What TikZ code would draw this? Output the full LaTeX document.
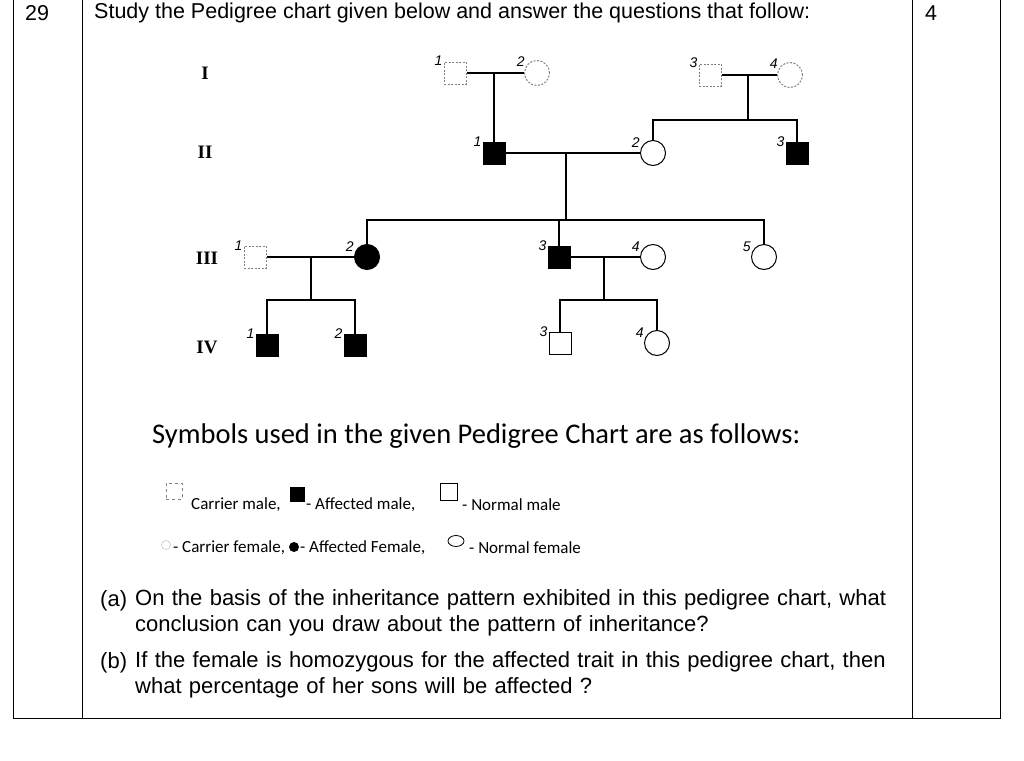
\documentclass[tikz,border=0pt]{standalone}
\usepackage{fontspec}
\usetikzlibrary{shapes.geometric}
\setmainfont{Liberation Sans}
\newfontfamily\calfont{Carlito}
\newfontfamily\serifn{Liberation Serif}
\begin{document}
\begin{tikzpicture}[x=1pt,y=-1pt,
  ln/.style={line width=1.1pt},
  male/.style={draw,line width=1pt,minimum size=22pt,inner sep=0pt},
  fem/.style={draw,circle,line width=1pt,minimum size=25pt,inner sep=0pt},
  aff/.style={fill=black},
  car/.style={dashed,draw=gray,dash pattern=on 2pt off 1.5pt},
  num/.style={font=\fontsize{14}{14}\itshape\selectfont,inner sep=0pt},
  gen/.style={font=\fontsize{19}{19}\bfseries\serifn,inner sep=0pt},
  txt/.style={font=\fontsize{21.5}{26}\selectfont,inner sep=0pt,anchor=west},
  qtxt/.style={font=\fontsize{22}{26}\selectfont,inner sep=0pt,anchor=west},
  leg/.style={inner sep=0pt,anchor=west,font=\fontsize{17}{17}\calfont}]
\useasboundingbox (0,0) rectangle (1024,760);
% table
\draw[line width=1pt] (13,-5) -- (13,718) -- (1000,718) -- (1000,-5);
\draw[line width=1pt] (82,-5) -- (82,718) (912,-5) -- (912,718);
\node[txt] (q) at (25,13) {29};
\node[txt] (m) at (925,13) {4};
\node[txt] (h) at (94,13) {Study the Pedigree chart given below and answer the questions that follow:};
% generations
\node[gen] (gI) at (205,73) {I};
\node[gen] (gII) at (205,152) {II};
\node[gen] (gIII) at (207,258) {III};
\node[gen] (gIV) at (207,347) {IV};
% gen I
\node[male,car] (I1) at (455,73) {};
\node[fem,car] (I2) at (537,73) {};
\node[male,car] (I3) at (710,75) {};
\node[fem,car] (I4) at (790,75) {};
% gen II
\node[male,aff] (II1) at (494,153) {};
\node[fem] (II2) at (653,153) {};
\node[male,aff] (II3) at (797,153) {};
% gen III
\node[male,car] (III1) at (255,257) {};
\node[fem,aff] (III2) at (367,257) {};
\node[male,aff] (III3) at (559,257) {};
\node[fem] (III4) at (653,257) {};
\node[fem] (III5) at (764,257) {};
% gen IV
\node[male,aff] (IV1) at (267,345) {};
\node[male,aff] (IV2) at (355,345) {};
\node[male] (IV3) at (560,343) {};
\node[fem] (IV4) at (657,343) {};
% numbers
\node[num] at ([shift={(-5,-1)}]I1.north west) {1};
\node[num] at ([shift={(-7,-2)}]I2.north west) {2};
\node[num] at ([shift={(-5,-1)}]I3.north west) {3};
\node[num] at ([shift={(-7,-2)}]I4.north west) {4};
\node[num] at ([shift={(-5,0)}]II1.north west) {1};
\node[num] at ([shift={(-8,-1)}]II2.north west) {2};
\node[num] at ([shift={(-5,0)}]II3.north west) {3};
\node[num] at ([shift={(-5,0)}]III1.north west) {1};
\node[num] at ([shift={(-8,-1)}]III2.north west) {2};
\node[num] at ([shift={(-5,0)}]III3.north west) {3};
\node[num] at ([shift={(-8,-1)}]III4.north west) {4};
\node[num] at ([shift={(-8,-1)}]III5.north west) {5};
\node[num] at ([shift={(-5,0)}]IV1.north west) {1};
\node[num] at ([shift={(-5,0)}]IV2.north west) {2};
\node[num] at ([shift={(-5,0)}]IV3.north west) {3};
\node[num] at ([shift={(-8,-1)}]IV4.north west) {4};
% lines
\coordinate (m1) at (494,73);
\coordinate (m2) at (748,75);
\coordinate (s2) at (748,120);
\coordinate (m3) at (566,153);
\coordinate (s3) at (566,220);
\coordinate (m4) at (311,257);
\coordinate (s4) at (311,300);
\coordinate (m5) at (604,257);
\coordinate (s5) at (604,300);
\draw[ln] (I1) -- (I2) (m1) -- (II1);
\draw[ln] (I3) -- (I4) (m2) -- (s2);
\draw[ln] (II2) -- (II2 |- s2) -- (II3 |- s2) -- (II3);
\draw[ln] (II1) -- (II2) (m3) -- (s3);
\draw[ln] (III2) -- (III2 |- s3) -- (III5 |- s3) -- (III5) (III3 |- s3) -- (III3);
\draw[ln] (III1) -- (III2) (m4) -- (s4);
\draw[ln] (IV1) -- (IV1 |- s4) -- (IV2 |- s4) -- (IV2);
\draw[ln] (III3) -- (III4) (m5) -- (s5);
\draw[ln] (IV3) -- (IV3 |- s5) -- (IV4 |- s5) -- (IV4);
% legend
\node[inner sep=0pt,anchor=west,font=\fontsize{28.5}{30}\calfont] (sym) at (152,436) {Symbols used in the given Pedigree Chart are as follows:};
\node[draw=gray,dashed,minimum size=16pt,inner sep=0pt] (l1) at (174,491) {};
\node[leg] (t1) at (191,505) {Carrier male,};
\node[fill=black,minimum size=15pt,inner sep=0pt] (l2) at (297,494) {};
\node[leg] (t2) at (306,505) {- Affected male,};
\node[draw,line width=0.8pt,minimum size=17pt,inner sep=0pt] (l3) at (449,492) {};
\node[leg] (t3) at (462,505) {- Normal male};
\node[draw=gray!60,circle,minimum size=9pt,inner sep=0pt] (l4) at (166,545) {};
\node[leg] (t4) at (173,548) {- Carrier female,};
\node[fill=black,circle,minimum size=10pt,inner sep=0pt] (l5) at (294,547) {};
\node[leg] (t5) at (300,548) {- Affected Female,};
\node[draw,ellipse,line width=0.8pt,minimum width=16pt,minimum height=11pt,inner sep=0pt] (l6) at (456,541) {};
\node[leg] (t6) at (469,548) {- Normal female};
% questions
\node[qtxt] (a) at (100,601) {(a)};
\node[qtxt,anchor=north west,text width=790pt] (at) at (135,589) {On the basis of the inheritance pattern exhibited in this pedigree chart, what\\ conclusion can you draw about the pattern of inheritance?};
\node[qtxt] (b) at (100,663) {(b)};
\node[qtxt,anchor=north west,text width=790pt] (bt) at (135,651) {If the female is homozygous for the affected trait in this pedigree chart, then\\ what percentage of her sons will be affected ?};
\end{tikzpicture}
\end{document}
